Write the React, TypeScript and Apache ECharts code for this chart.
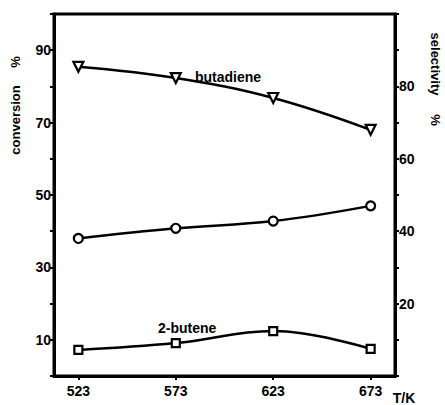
import React, { useEffect, useRef } from "react";
import * as echarts from "echarts";

const temps = [523, 573, 623, 673];
const xTicks = [523, 573, 623, 673];
const conversion = [38.0, 40.8, 42.8, 47.0];
const butadiene = [85.4, 82.3, 76.8, 68.0];
const butene2 = [7.2, 9.1, 12.4, 7.5];
const leftLabels = [10, 30, 50, 70, 90];
const rightLabels = [20, 40, 60, 80];

const FONT = "Liberation Sans";

export default function App() {
  const ref = useRef<HTMLDivElement>(null);
  useEffect(() => {
    if (!ref.current) return;
    const chart = echarts.init(ref.current, null, { renderer: "svg" });
    const pairs = (ys: number[]) => temps.map((t, i) => [t, ys[i]]);
    const lineBase = {
      type: "line",
      smooth: 0.4,
      showSymbol: true,
      lineStyle: { color: "#000", width: 2.5 },
      itemStyle: { color: "#fff", borderColor: "#000", borderWidth: 2.2 },
      z: 3,
    };
    chart.setOption({
      animation: false,
      backgroundColor: "#fff",
      grid: {
        left: 54,
        right: 50,
        top: 14,
        bottom: 29,
        show: true,
        borderColor: "#000",
        borderWidth: 3,
      },
      xAxis: {
        type: "value",
        min: 510.5,
        max: 685.5,
        splitLine: { show: false },
        axisLine: { lineStyle: { color: "#000", width: 3 } },
        axisTick: {
          show: true,
          customValues: xTicks,
          length: 4,
          lineStyle: { color: "#000", width: 2 },
        },
        axisLabel: {
          customValues: xTicks,
          margin: 8,
          color: "#000",
          fontFamily: FONT,
          fontWeight: "bold",
          fontSize: 14,
        },
      },
      yAxis: [
        {
          type: "value",
          position: "left",
          min: 0,
          max: 100,
          interval: 10,
          splitLine: { show: false },
          axisLine: { show: true, lineStyle: { color: "#000", width: 3 } },
          axisTick: { show: true, length: 4, lineStyle: { color: "#000", width: 2 } },
          axisLabel: {
            margin: 3,
            color: "#000",
            fontFamily: FONT,
            fontWeight: "bold",
            fontSize: 14,
            formatter: (v: number) => (leftLabels.includes(v) ? String(v) : ""),
          },
        },
        {
          type: "value",
          position: "right",
          min: 0,
          max: 100,
          interval: 10,
          splitLine: { show: false },
          axisLine: { show: true, lineStyle: { color: "#000", width: 3 } },
          axisTick: { show: true, length: 4, lineStyle: { color: "#000", width: 2 } },
          axisLabel: {
            margin: 4,
            color: "#000",
            fontFamily: FONT,
            fontWeight: "bold",
            fontSize: 14,
            formatter: (v: number) => (rightLabels.includes(v) ? String(v) : ""),
          },
        },
      ],
      series: [
        {
          ...lineBase,
          name: "conversion",
          yAxisIndex: 0,
          symbol: "circle",
          symbolSize: 9,
          data: pairs(conversion),
        },
        {
          ...lineBase,
          name: "butadiene",
          yAxisIndex: 1,
          symbol: "triangle",
          symbolRotate: 180,
          symbolSize: 10,
          data: pairs(butadiene),
        },
        {
          ...lineBase,
          name: "2-butene",
          yAxisIndex: 1,
          symbol: "rect",
          symbolSize: 8,
          data: pairs(butene2),
        },
      ],
      graphic: [
        {
          type: "text",
          x: 195,
          y: 77,
          style: {
            text: "butadiene",
            fill: "#000",
            font: `bold 14px "${FONT}"`,
            textVerticalAlign: "middle",
          },
        },
        {
          type: "text",
          x: 158,
          y: 328,
          style: {
            text: "2-butene",
            fill: "#000",
            font: `bold 14px "${FONT}"`,
            textVerticalAlign: "middle",
          },
        },
        {
          type: "text",
          x: 404,
          y: 398,
          style: {
            text: "T/K",
            fill: "#000",
            font: `bold 14px "${FONT}"`,
            textAlign: "center",
            textVerticalAlign: "middle",
          },
        },
        {
          type: "text",
          x: 15,
          y: 120,
          rotation: Math.PI / 2,
          style: {
            text: "conversion",
            fill: "#000",
            font: `bold 13px "${FONT}"`,
            textAlign: "center",
            textVerticalAlign: "middle",
          },
        },
        {
          type: "text",
          x: 15,
          y: 62,
          rotation: Math.PI / 2,
          style: {
            text: "%",
            fill: "#000",
            font: `bold 13px "${FONT}"`,
            textAlign: "center",
            textVerticalAlign: "middle",
          },
        },
        {
          type: "text",
          x: 435,
          y: 64,
          rotation: -Math.PI / 2,
          style: {
            text: "selectivity",
            fill: "#000",
            font: `bold 13px "${FONT}"`,
            textAlign: "center",
            textVerticalAlign: "middle",
          },
        },
        {
          type: "text",
          x: 435,
          y: 120,
          rotation: -Math.PI / 2,
          style: {
            text: "%",
            fill: "#000",
            font: `bold 13px "${FONT}"`,
            textAlign: "center",
            textVerticalAlign: "middle",
          },
        },
      ],
    });
    return () => chart.dispose();
  }, []);
  return (
    <div
      ref={ref}
      style={{ position: "fixed", left: 0, top: 0, width: 445, height: 405, background: "#fff" }}
    />
  );
}
